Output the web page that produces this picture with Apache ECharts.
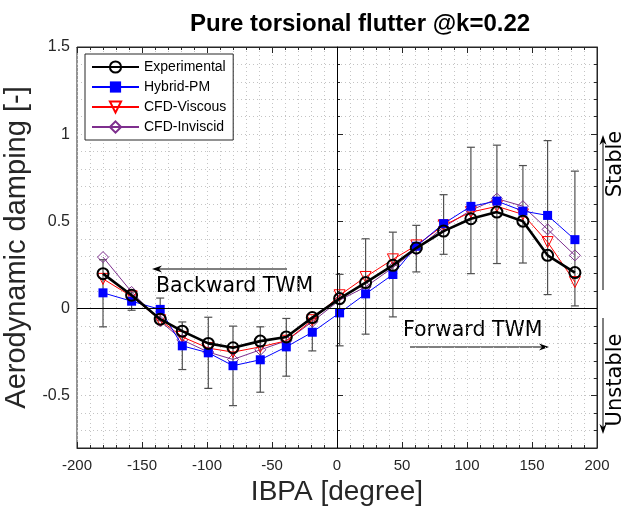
<!DOCTYPE html>
<html>
<head>
<meta charset="utf-8">
<title>Pure torsional flutter</title>
<script src="https://cdn.jsdelivr.net/npm/echarts@6/dist/echarts.min.js"></script>
<style>
html, body { margin: 0; padding: 0; background: #fff; }
#chart { width: 629px; height: 510px; }
</style>
</head>
<body>
<div id="chart"></div>
<script>
// IBPA [degree]
var ibpa = [-180, -158, -136, -119, -99, -80, -59, -39, -19, 2, 22, 43, 61, 82, 103, 123, 143, 162, 183];
var experimental = [0.20, 0.076, -0.061, -0.13, -0.20, -0.225, -0.187, -0.163, -0.052, 0.057, 0.149, 0.248, 0.347, 0.444, 0.515, 0.553, 0.501, 0.305, 0.206];
var hybridPM = [0.09, 0.042, -0.005, -0.214, -0.254, -0.328, -0.294, -0.22, -0.136, -0.025, 0.084, 0.195, 0.357, 0.487, 0.586, 0.616, 0.559, 0.534, 0.395];
var cfdViscous = [0.17, 0.07, -0.067, -0.163, -0.227, -0.25, -0.22, -0.185, -0.067, 0.076, 0.181, 0.282, 0.362, 0.477, 0.553, 0.586, 0.54, 0.381, 0.152];
var cfdInviscid = [0.295, 0.095, -0.073, -0.18, -0.25, -0.292, -0.237, -0.185, -0.076, 0.048, 0.124, 0.235, 0.338, 0.467, 0.563, 0.63, 0.587, 0.454, 0.305];
// error bar ends
var errLow = [-0.105, -0.01, -0.07, -0.35, -0.458, -0.557, -0.48, -0.388, -0.243, -0.214, -0.147, -0.048, 0.21, 0.311, 0.20, 0.258, 0.261, 0.08, 0.015];
var errHigh = [0.28, 0.095, 0.06, -0.077, -0.05, -0.101, -0.105, -0.057, -0.057, 0.196, 0.40, 0.438, 0.477, 0.653, 0.925, 0.937, 0.82, 0.963, 0.788];
// y tick labels
var yTicks = [-0.5, 0, 0.5, 1, 1.5];

var FONT = 'Liberation Sans, Arial, sans-serif';
var AX = '#262626';
var GRIDC = '#c4c4c4';

function pairs(ys) {
    return ibpa.map(function (x, i) { return [x, ys[i]]; });
}

// error bars
function renderErrorBar(params, api) {
    var top = api.coord([api.value(0), api.value(2)]);
    var bot = api.coord([api.value(0), api.value(1)]);
    var w = 4;
    var st = { stroke: '#505050', lineWidth: 1.2 };
    return {
        type: 'group',
        children: [
            { type: 'line', shape: { x1: top[0], y1: top[1], x2: bot[0], y2: bot[1] }, style: st },
            { type: 'line', shape: { x1: top[0] - w, y1: top[1], x2: top[0] + w, y2: top[1] }, style: st },
            { type: 'line', shape: { x1: bot[0] - w, y1: bot[1], x2: bot[0] + w, y2: bot[1] }, style: st }
        ]
    };
}

// annotation arrow, head at (x2, y2)
function arrow(x1, y1, x2, y2) {
    var a = Math.atan2(y2 - y1, x2 - x1);
    var len = 10, half = 3.5;
    var c = Math.cos(a), s = Math.sin(a);
    var bx = x2 - len * c, by = y2 - len * s;
    return [
        { type: 'line', shape: { x1: x1, y1: y1, x2: x2 - 4 * c, y2: y2 - 4 * s }, style: { stroke: '#000', lineWidth: 1 } },
        {
            type: 'polygon',
            shape: { points: [[x2, y2], [bx - s * half, by + c * half], [x2 - 0.7 * len * c, y2 - 0.7 * len * s], [bx + s * half, by - c * half]] },
            style: { fill: '#000' }
        }
    ];
}

function label(text, x, y, size, rot) {
    return {
        type: 'text', x: x, y: y, rotation: rot || 0,
        style: { text: text, fontSize: size, fontFamily: 'DejaVu Sans', fill: '#000', align: rot ? 'center' : 'left', verticalAlign: 'middle' }
    };
}

var dotted = { color: GRIDC, type: [1, 3], width: 1 };

function yAxisCfg(pos, major) {
    return {
        type: 'value', position: pos, min: -0.8, max: 1.5, interval: 0.1,
        axisLine: { show: !major, lineStyle: { color: AX } },
        axisTick: major
            ? { show: true, inside: true, length: 6, customValues: yTicks, lineStyle: { color: AX } }
            : { show: true, inside: true, length: 3, lineStyle: { color: AX } },
        axisLabel: (pos === 'left' && !major)
            ? { customValues: yTicks, color: AX, fontSize: 16, fontFamily: FONT, margin: 7, formatter: function (v) { return String(Math.round(v * 10) / 10); } }
            : { show: false },
        splitLine: (pos === 'left' && !major) ? { show: true, lineStyle: dotted } : { show: false }
    };
}

function xAxisCfg(pos) {
    return {
        type: 'value', position: pos, min: -200, max: 200, interval: 50,
        axisLine: { show: true, onZero: false, lineStyle: { color: AX } },
        axisTick: { show: true, inside: true, length: 6, lineStyle: { color: AX } },
        minorTick: { show: true, splitNumber: 5, length: 3, lineStyle: { color: AX } },
        axisLabel: pos === 'bottom' ? { color: AX, fontSize: 15, fontFamily: FONT, margin: 10 } : { show: false },
        splitLine: { show: pos === 'bottom', lineStyle: dotted },
        minorSplitLine: { show: pos === 'bottom', lineStyle: dotted }
    };
}

var xb = xAxisCfg('bottom');
xb.name = 'IBPA [degree]';
xb.nameLocation = 'middle';
xb.nameGap = 29;
xb.nameTextStyle = { fontSize: 28, color: AX, fontFamily: FONT };

var yl = yAxisCfg('left', false);
yl.name = 'Aerodynamic damping [-]';
yl.nameLocation = 'middle';
yl.nameGap = 43;
yl.nameTextStyle = { fontSize: 29, color: AX, fontFamily: FONT };

var chart = echarts.init(document.getElementById('chart'));
var option = {
    backgroundColor: '#fff',
    animation: false,
    title: {
        text: 'Pure torsional flutter @k=0.22',
        left: 185, top: 7,
        textStyle: { fontSize: 24, fontWeight: 'bold', color: '#000', fontFamily: FONT }
    },
    grid: { left: 77, right: 32, top: 47, bottom: 62, outerBoundsMode: 'none', containLabel: false, show: true, borderColor: AX, borderWidth: 1 },
    legend: {
        left: 85, top: 54, orient: 'vertical',
        padding: [6, 7, 6, 6], itemGap: 6, itemWidth: 47, itemHeight: 14,
        backgroundColor: '#fff', borderColor: AX, borderWidth: 1, borderRadius: 0,
        textStyle: { fontSize: 14, color: '#000', fontFamily: FONT },
        data: ['Experimental', 'Hybrid-PM', 'CFD-Viscous', 'CFD-Inviscid']
    },
    xAxis: [xb, xAxisCfg('top')],
    yAxis: [yl, yAxisCfg('left', true), yAxisCfg('right', false), yAxisCfg('right', true)],
    series: [
        {
            name: 'err', type: 'custom', renderItem: renderErrorBar, z: 1, silent: true,
            encode: { x: 0, y: [1, 2] },
            data: ibpa.map(function (x, i) { return [x, errLow[i], errHigh[i]]; })
        },
        {
            name: 'CFD-Inviscid', type: 'line', z: 2, data: pairs(cfdInviscid),
            symbol: 'diamond', symbolSize: 11,
            lineStyle: { color: '#7E2F8E', width: 1 },
            itemStyle: { color: 'rgba(0,0,0,0)', borderColor: '#7E2F8E', borderWidth: 1 }
        },
        {
            name: 'CFD-Viscous', type: 'line', z: 3, data: pairs(cfdViscous),
            symbol: 'triangle', symbolRotate: 180, symbolSize: 11,
            lineStyle: { color: '#ff0000', width: 1 },
            itemStyle: { color: 'rgba(0,0,0,0)', borderColor: '#ff0000', borderWidth: 1 }
        },
        {
            name: 'Hybrid-PM', type: 'line', z: 4, data: pairs(hybridPM),
            symbol: 'rect', symbolSize: 9,
            lineStyle: { color: '#0000ff', width: 1 },
            itemStyle: { color: '#0000ff' },
            markLine: {
                silent: true, symbol: 'none', label: { show: false },
                lineStyle: { color: '#000', type: 'solid', width: 1 },
                data: [{ xAxis: 0 }, { yAxis: 0 }]
            }
        },
        {
            name: 'Experimental', type: 'line', z: 5, data: pairs(experimental),
            symbol: 'circle', symbolSize: 11,
            lineStyle: { color: '#000', width: 2.6 },
            itemStyle: { color: 'rgba(0,0,0,0)', borderColor: '#000', borderWidth: 2 }
        }
    ],
    graphic: [].concat(
        arrow(287, 269, 152, 269),
        [label('Backward TWM', 156, 287, 20.5)],
        [label('Forward TWM', 403, 331, 20.5)],
        arrow(410, 347, 549, 347),
        arrow(603, 290, 603, 135),
        arrow(603, 318, 603, 434),
        [label('Stable', 616, 164, 21, Math.PI / 2)],
        [label('Unstable', 616, 380, 21, Math.PI / 2)]
    )
};
chart.setOption(option);
</script>
</body>
</html>
